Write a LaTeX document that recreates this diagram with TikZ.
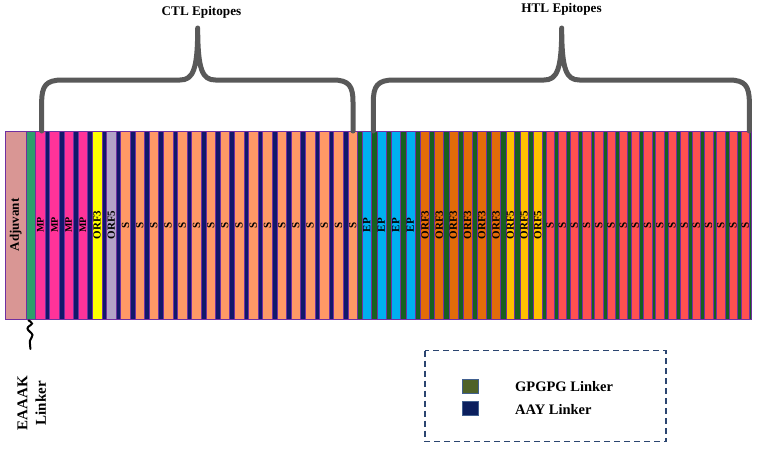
\documentclass[tikz,border=0pt]{standalone}
\usepackage{fontspec}
\setmainfont{Liberation Serif}
\definecolor{adjc}{HTML}{D99694}
\definecolor{eaaakc}{HTML}{2E9E6B}
\definecolor{mpc}{HTML}{FF3399}
\definecolor{navyc}{HTML}{12186A}
\definecolor{yelc}{HTML}{FFFF00}
\definecolor{lavc}{HTML}{B3A2C7}
\definecolor{salc}{HTML}{FF9966}
\definecolor{dgreen}{HTML}{17601F}
\definecolor{cyanc}{HTML}{00B0F0}
\definecolor{orac}{HTML}{E36C09}
\definecolor{goldc}{HTML}{FFC000}
\definecolor{redc}{HTML}{FF5050}
\definecolor{segline}{HTML}{7030A0}
\definecolor{bracec}{HTML}{595959}
\definecolor{legline}{HTML}{2B4570}
\definecolor{gpgc}{HTML}{4F6228}
\definecolor{aayc}{HTML}{0B1F5E}
\definecolor{legboxline}{HTML}{41608F}
\begin{document}
\begin{tikzpicture}[x=1pt,y=-1pt,
  seg/.style={draw=segline, line width=0.5pt, rotate=90, minimum width=188pt,
    inner sep=0pt, text=black, font=\bfseries\fontsize{11}{11}\selectfont},
  bracket/.style={draw=bracec, line width=5pt, line cap=round, line join=round},
  title/.style={font=\bfseries\fontsize{13.2}{13.2}\selectfont, inner sep=0pt},
  legtext/.style={font=\bfseries\fontsize{14.5}{14.5}\selectfont, inner sep=0pt},
  legbox/.style={draw=legboxline, line width=1pt, minimum width=15.6pt, minimum height=14pt, inner sep=0pt},
  legdash/.style={draw=legline, line width=1.6pt, dash pattern=on 6pt off 4pt},
  squig/.style={draw=black, line width=2pt, line cap=round}
]
\useasboundingbox (0,0) rectangle (758,453);

% linker backgrounds
\fill[navyc] (35.5,131) rectangle (357.8,319);
\fill[dgreen] (357.8,131) rectangle (751,319);

% adjuvant and EAAAK linker
\node[seg, fill=adjc, minimum height=21.7pt, font=\bfseries\fontsize{13}{13}\selectfont] (adj) at (15.85,225) {Adjuvant};
\node[seg, fill=eaaakc, minimum height=9pt] (eaaak) at (31.2,225) {};

% CTL epitopes
\foreach \c/\lab/\col [count=\i] in {40.3/MP/mpc, 54.5/MP/mpc, 68.7/MP/mpc, 82.9/MP/mpc}
  \node[seg, fill=\col, minimum height=9.6pt, font=\bfseries\fontsize{10}{10}\selectfont] (mp\i) at (\c,225) {\lab};
\node[seg, fill=yelc, minimum height=9.6pt] (ctlorf3) at (97.1,225) {ORF3};
\node[seg, fill=lavc, minimum height=9.6pt] (ctlorf5) at (111.3,225) {ORF5};
\foreach \k in {0,...,16}
  \node[seg, fill=salc, minimum height=9.6pt] (cs\k) at ({125.5+14.2*\k},225) {S};

% HTL epitopes
\foreach \k in {0,...,3}
  \node[seg, fill=cyanc, minimum height=9pt] (ep\k) at ({366.8+14.5*\k},225) {EP};
\foreach \k in {0,...,5}
  \node[seg, fill=orac, minimum height=9pt] (hof3\k) at ({425+14.2*\k},225) {ORF3};
\foreach \k in {0,...,2}
  \node[seg, fill=goldc, minimum height=8.6pt] (hof5\k) at ({510.3+13.8*\k},225) {ORF5};
\foreach \k in {0,...,16}
  \node[seg, fill=redc, minimum height=8.4pt] (hs\k) at ({550+12.2*\k},225) {S};

% outer outline
\draw[segline, line width=1pt] (5,131) rectangle (751,319);

% brackets
\draw[bracket] (41.7,131) -- (41.7,102) .. controls (41.7,86) and (46,80) .. (62,80) -- (180,80)
  .. controls (193,80) and (197.7,70) .. (197.7,28)
  .. controls (197.7,70) and (202.4,80) .. (215.4,80) -- (333,80)
  .. controls (349,80) and (353,86) .. (353,102) -- (353,131);
\draw[bracket] (373.3,131) -- (373.3,102) .. controls (373.3,86) and (377.6,80) .. (393.6,80) -- (544,80)
  .. controls (557,80) and (561.7,70) .. (561.7,28)
  .. controls (561.7,70) and (566.4,80) .. (579.4,80) -- (729,80)
  .. controls (745,80) and (749.3,86) .. (749.3,102) -- (749.3,131);
\node[title, anchor=base] (ctl) at (201.5,15) {CTL Epitopes};
\node[title, anchor=base] (htl) at (561.5,12.7) {HTL Epitopes};

% EAAAK squiggle and label
\coordinate (sqtop) at (28.5,320.5);
\draw[squig] plot[smooth, tension=0.7] coordinates {(28.5,320.5) (32,323.5) (27.5,328.5) (32.5,335) (30,340.5) (30.5,349)};
\node[rotate=90, align=center, inner sep=0pt, font=\bfseries\fontsize{15}{18.4}\selectfont] (eaaaklab) at (31.7,403.3) {EAAAK\\Linker};

% legend
\draw[legdash] (425,350.5) rectangle (666,441.5);
\node[legbox, fill=gpgc] (gbox) at (470.5,386.3) {};
\node[legbox, fill=aayc] (abox) at (470.5,408) {};
\node[legtext, anchor=base west] (gtext) at (515,391.7) {GPGPG Linker};
\node[legtext, anchor=base west] (atext) at (515,414) {AAY Linker};
\end{tikzpicture}
\end{document}
